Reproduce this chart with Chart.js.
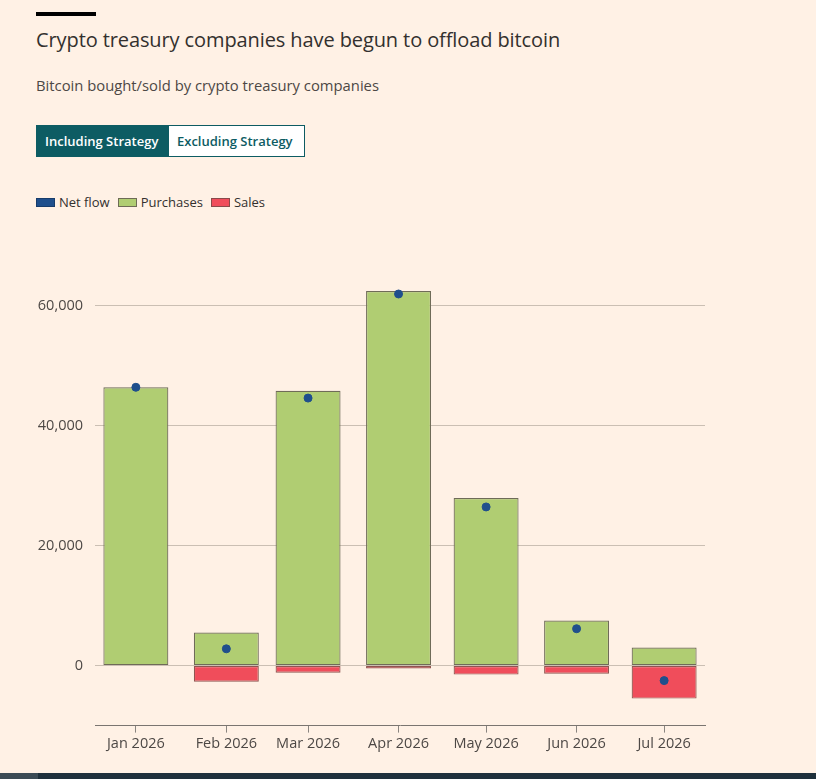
<!DOCTYPE html>
<html>
<head>
<meta charset="utf-8">
<script src="https://cdn.jsdelivr.net/npm/chart.js@4"></script>
<style>
  html, body { margin: 0; padding: 0; background: #fff1e5; }
  body { width: 816px; height: 779px; position: relative; overflow: hidden; font-family: "Open Sans", sans-serif; color: #33302e; }
  .bar { position: absolute; left: 36px; top: 12px; width: 60px; height: 4px; background: #000; }
  h1 { position: absolute; left: 36px; top: 26px; margin: 0; font-size: 20px; font-weight: 400; letter-spacing: -0.1px; }
  .sub { position: absolute; left: 36px; top: 75px; font-size: 14.8px; color: #4d4845; }
  .btns { position: absolute; left: 36px; top: 125px; display: flex; height: 32px; }
  .btn { box-sizing: border-box; height: 32px; line-height: 30px; font-size: 13px; font-weight: 600; padding: 0 8px; border: 1px solid #0d5c63; }
  .btn.on { background: #0d5c63; color: #fff; width: 133px; }
  .btn.off { background: #fff; color: #0d5c63; width: 136px; border-left: none; }
  .legend { position: absolute; left: 36px; top: 193px; display: flex; font-size: 13px; align-items: center; }
  .legend span.sw { display: inline-block; width: 19px; height: 9px; margin-right: 4px; box-sizing: border-box; }
  .legend .item { display: flex; align-items: center; margin-right: 8px; }
  #wrap { position: absolute; left: 0; top: 225px; width: 816px; height: 545px; }
  .foot { position: absolute; left: 0; top: 773px; width: 816px; height: 6px; background: #1f303b; }
  .foot2 { position: absolute; left: 0; top: 773px; width: 38px; height: 6px; background: #3c4b55; }
</style>
</head>
<body>
<div class="bar"></div>
<h1>Crypto treasury companies have begun to offload bitcoin</h1>
<div class="sub">Bitcoin bought/sold by crypto treasury companies</div>
<div class="btns"><div class="btn on">Including Strategy</div><div class="btn off">Excluding Strategy</div></div>
<div class="legend">
  <div class="item"><span class="sw" style="background:#1f4f8c;border:1px solid #173c6b"></span>Net flow</div>
  <div class="item"><span class="sw" style="background:#b0cd72;border:1px solid #6e6b55"></span>Purchases</div>
  <div class="item"><span class="sw" style="background:#f04d5b;border:1px solid #8a4a4a"></span>Sales</div>
</div>
<div id="wrap"><canvas id="c"></canvas></div>
<div class="foot"></div><div class="foot2"></div>
<script>
// Data
const monthLabels = ["Jan 2026", "Feb 2026", "Mar 2026", "Apr 2026", "May 2026", "Jun 2026", "Jul 2026"];
const monthDays = [0, 31, 59, 90, 120, 151, 181]; // days since 1 Jan 2026
const purchases = [46400, 5500, 45800, 62450, 27950, 7500, 3000];
const sales = [0, -2700, -1200, -500, -1500, -1350, -5500];
const netFlow = [46400, 2800, 44600, 61950, 26450, 6150, -2500];
const yTicks = [0, 20000, 40000, 60000];

const pts = arr => arr.map((v, i) => ({ x: monthDays[i], y: v }));

new Chart(document.getElementById('c'), {
  data: {
    datasets: [
      { type: 'scatter', label: 'Net flow', data: pts(netFlow), stack: 'net',
        backgroundColor: '#1f4f8c', borderColor: '#1f4f8c', pointRadius: 4, pointHoverRadius: 4, order: 0 },
      { type: 'bar', label: 'Purchases', data: pts(purchases), stack: 'flows',
        backgroundColor: '#b0cd72', borderColor: '#6f6b58', borderWidth: 1.2, borderSkipped: false, order: 1,
        categoryPercentage: 1, barPercentage: 0.795 },
      { type: 'bar', label: 'Sales', data: pts(sales), stack: 'flows',
        backgroundColor: '#f04d5b', borderColor: '#8f5550', borderWidth: 1.2, borderSkipped: false, order: 1,
        categoryPercentage: 1, barPercentage: 0.795 }
    ]
  },
  options: {
    responsive: true,
    maintainAspectRatio: false,
    animation: false,
    layout: { padding: { top: 4.5, right: 111, left: 0, bottom: 14 } },
    plugins: { legend: { display: false }, tooltip: { enabled: false } },
    scales: {
      x: {
        type: 'linear', min: -14, max: 195, stacked: true, offset: false,
        afterBuildTicks: ax => { ax.ticks = monthDays.map(v => ({ value: v })); },
        ticks: { callback: (v) => monthLabels[monthDays.indexOf(v)], color: '#4d4845',
          font: { family: 'Open Sans', size: 14.5 }, maxRotation: 0, autoSkip: false, padding: 3 },
        grid: { offset: false, drawOnChartArea: false, drawTicks: true, tickLength: 7, color: '#8a8580' },
        border: { display: true, color: '#7a7570', width: 1 }
      },
      y: {
        min: -10000, max: 70000, stacked: true,
        afterBuildTicks: ax => { ax.ticks = yTicks.map(v => ({ value: v })); },
        afterFit: ax => { ax.width = 95; },
        ticks: { callback: v => v.toLocaleString('en-US'), color: '#4d4845',
          font: { family: 'Open Sans', size: 14.5 }, padding: 12 },
        grid: { drawTicks: false, color: '#cbbfb3', lineWidth: 1 },
        border: { display: false }
      }
    }
  }
});
</script>
</body>
</html>
